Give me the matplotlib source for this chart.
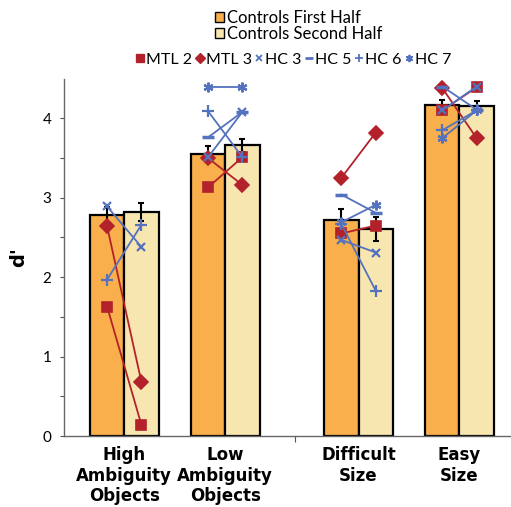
import numpy as np
import matplotlib.pyplot as plt
from matplotlib.patches import Patch
from matplotlib.lines import Line2D

plt.rcParams.update({
    'font.family': ['Lato', 'DejaVu Sans'],
    'font.size': 11,
})

# data
categories = ['High\nAmbiguity\nObjects', 'Low\nAmbiguity\nObjects',
              'Difficult\nSize', 'Easy\nSize']
cat_pos = [0, 1, 2.32, 3.32]
first_half = [2.78, 3.55, 2.72, 4.17]
first_err = [0.10, 0.10, 0.14, 0.06]
second_half = [2.82, 3.66, 2.61, 4.16]
second_err = [0.11, 0.08, 0.15, 0.06]

nan = np.nan
mtl2 = [(1.63, 0.14), (3.13, 3.51), (2.55, 2.65), (4.10, 4.39)]
mtl3 = [(2.64, 0.68), (3.50, 3.16), (3.25, 3.82), (4.38, 3.75)]
hc3 = [(2.89, 2.38), (3.51, 4.08), (2.47, 2.31), (4.10, 4.40)]
hc5 = [(nan, nan), (3.76, 4.08), (3.04, 2.81), (4.40, 4.11)]
hc6 = [(1.97, 2.66), (4.09, 3.51), (2.67, 1.83), (3.85, 4.10)]
hc7 = [(nan, nan), (4.39, 4.39), (2.69, 2.91), (3.75, 4.10)]

c_first = '#F8AF4C'
c_second = '#F8E6B0'
c_red = '#B3222B'
c_blue = '#5472BD'
label_font = ['Liberation Sans Narrow', 'DejaVu Sans']

fig = plt.figure(figsize=(5.11, 5.07), dpi=100)
ax = fig.add_axes([0.125, 0.140, 0.873, 0.705])

w = 0.34
x = np.array(cat_pos)
ax.bar(x - w / 2, first_half, w, color=c_first, edgecolor='black', linewidth=1.6, zorder=2)
ax.bar(x + w / 2, second_half, w, color=c_second, edgecolor='black', linewidth=1.6, zorder=2)
ax.errorbar(x - w / 2, first_half, yerr=first_err, fmt='none', ecolor='black',
            elinewidth=1.5, capsize=2.5, capthick=1.5, zorder=3)
ax.errorbar(x + w / 2, second_half, yerr=second_err, fmt='none', ecolor='black',
            elinewidth=1.5, capsize=2.5, capthick=1.5, zorder=3)

patients = [
    ('MTL 2', mtl2, c_red, 's', 7, 1.2),
    ('MTL 3', mtl3, c_red, 'D', 7, 1.2),
    ('HC 3', hc3, c_blue, 'x', 6, 1.6),
    ('HC 5', hc5, c_blue, '_', 8, 2.5),
    ('HC 6', hc6, c_blue, '+', 8, 1.6),
    ('HC 7', hc7, c_blue, (6, 2, 0), 7, 1.6),
]
handles = []
for name, vals, col, mk, ms, mew in patients:
    for xc, (a, b) in zip(cat_pos, vals):
        ax.plot([xc - w / 2, xc + w / 2], [a, b], color=col, lw=1.3,
                marker=mk, ms=ms, mew=mew, mec=col, mfc=col, zorder=4)
    handles.append(Line2D([], [], ls='none', marker=mk, ms=ms * 0.75, mew=mew * 0.8,
                          color=col, mec=col, mfc=col, label=name))

ax.set_xlim(-0.598, 3.82)
ax.set_ylim(0, 4.5)
ax.set_yticks([0, 1, 2, 3, 4])
ax.set_yticks(np.arange(0.5, 4.5, 1.0), minor=True)
ax.tick_params(axis='y', which='both', direction='out', length=3, width=0.8,
               color='#555555', pad=6, labelsize=11)
ax.set_xticks([1.69])
ax.set_xticklabels([''])
ax.tick_params(axis='x', which='major', direction='out', length=4, width=0.8, color='#555555')
ax.set_xticks(cat_pos, minor=True)
ax.set_xticklabels(categories, minor=True, fontweight='bold', fontsize=12,
                   family=label_font, linespacing=1.2)
ax.tick_params(axis='x', which='minor', length=0, pad=7)

for s in ['top', 'right']:
    ax.spines[s].set_visible(False)
for s in ['left', 'bottom']:
    ax.spines[s].set_color('#666666')
    ax.spines[s].set_linewidth(1.0)

ax.set_ylabel("d'", fontweight='bold', fontsize=14, labelpad=10, family=label_font)

bar_handles = [Patch(facecolor=c_first, edgecolor='black', linewidth=1.0, label='Controls First Half'),
               Patch(facecolor=c_second, edgecolor='black', linewidth=1.0, label='Controls Second Half')]
leg1 = fig.legend(handles=bar_handles, loc='upper center', bbox_to_anchor=(0.585, 1.01),
                  frameon=False, fontsize=12, handlelength=0.5, handleheight=0.5,
                  handletextpad=0.2, labelspacing=0.0)
leg2 = fig.legend(handles=handles, loc='upper center', bbox_to_anchor=(0.575, 0.925),
                  ncol=6, frameon=False, fontsize=11.5, handlelength=0.5,
                  handletextpad=0.1, columnspacing=0.25)

fig.savefig('out.png', dpi=100)
